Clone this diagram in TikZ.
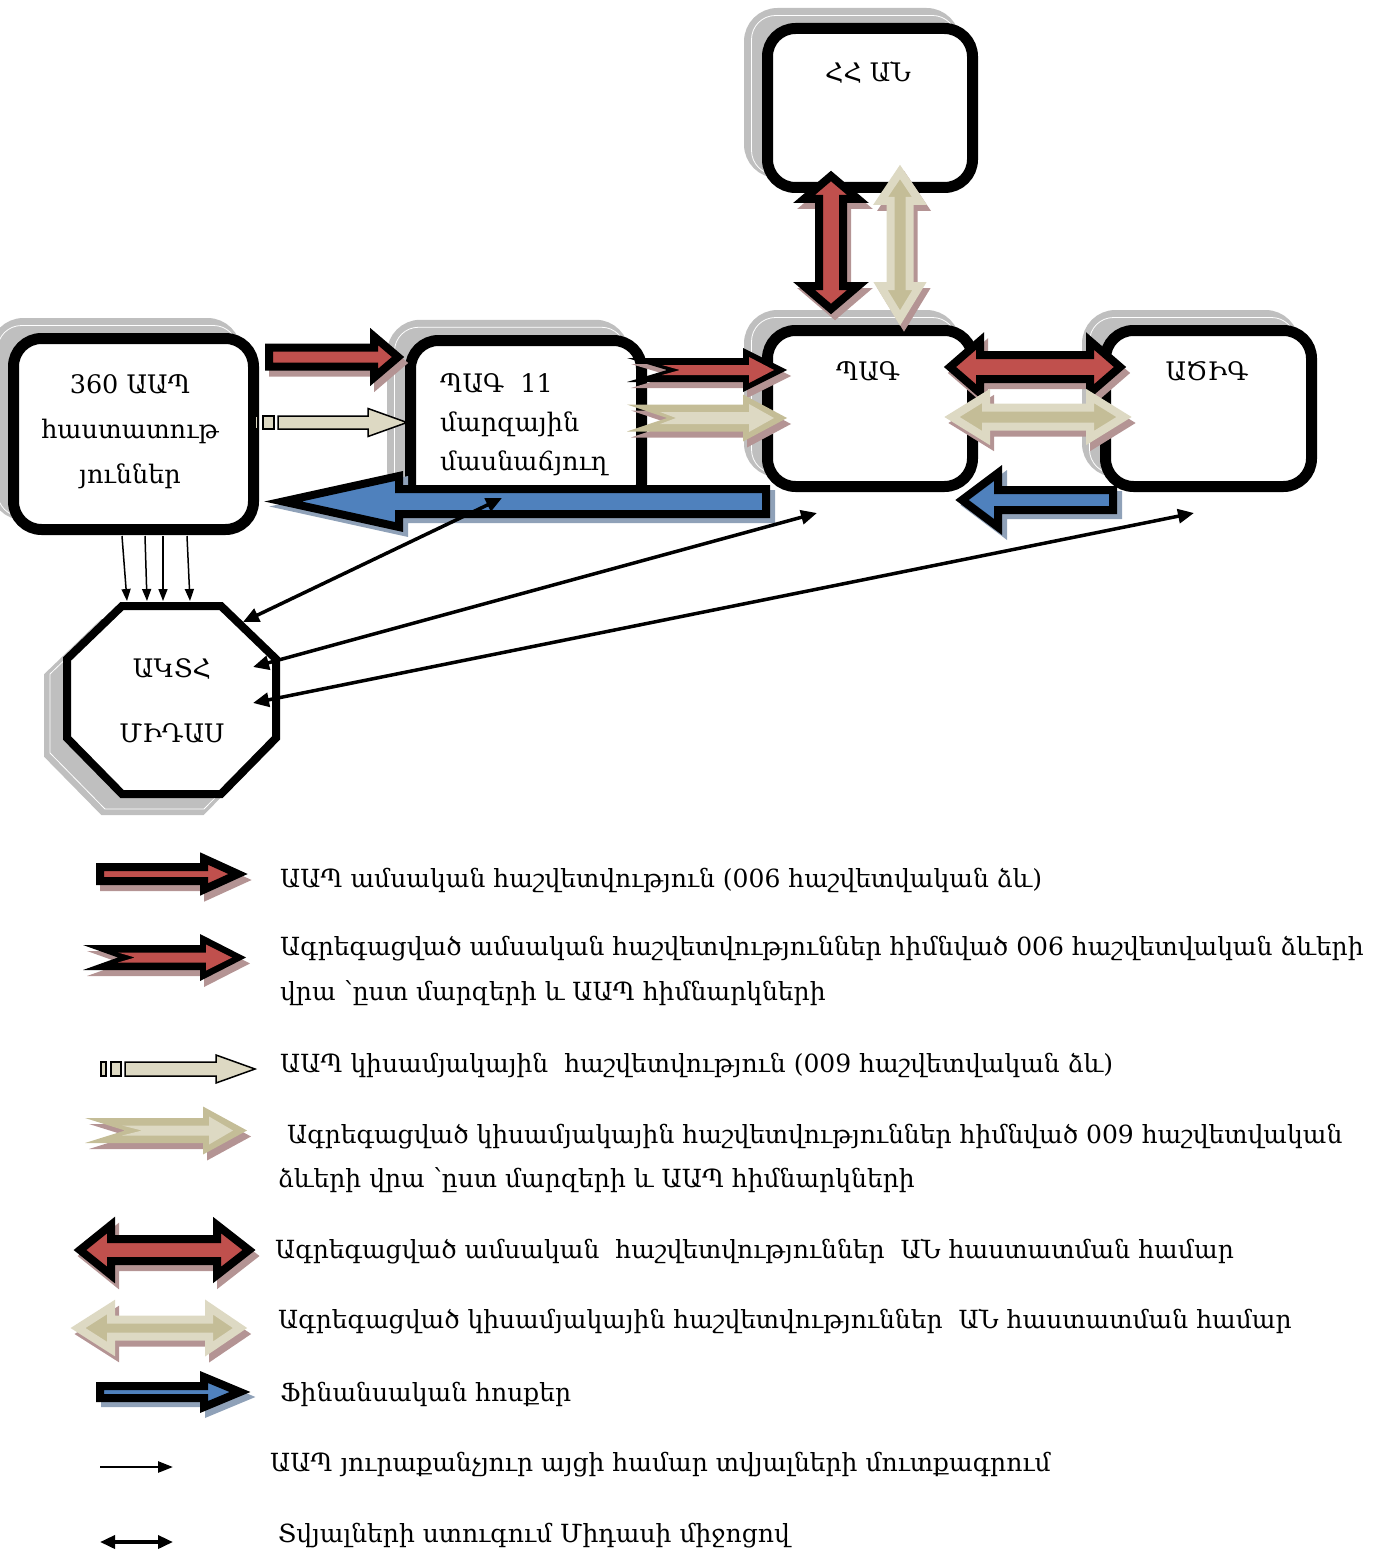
\documentclass[tikz,border=0pt]{standalone}
\usepackage{fontspec}
\setmainfont{DejaVu Serif}
\newfontfamily\legfont{DejaVu Serif}
\newfontfamily\boxfont{DejaVu Serif}
\usetikzlibrary{arrows.meta}
\definecolor{cred}{HTML}{C0504D}
\definecolor{cshr}{HTML}{B49494}
\definecolor{tanD}{HTML}{C4BD97}
\definecolor{tanL}{HTML}{DDD9C3}
\definecolor{cblue}{HTML}{4F81BD}
\definecolor{cshb}{HTML}{8FA1B8}
\definecolor{cgray}{HTML}{BFBFBF}
% single arrow: style, tail x, head-back x, tip x, y, body half, head half
\newcommand{\sarrow}[7]{\path[#1] (#2,#5-#6) -- (#3,#5-#6) -- (#3,#5-#7) -- (#4,#5) -- (#3,#5+#7) -- (#3,#5+#6) -- (#2,#5+#6) -- cycle;}
% notched arrow (filled only): + notch x
\newcommand{\narrow}[8]{\path[#1] (#2,#5-#6) -- (#3,#5-#6) -- (#3,#5-#7) -- (#4,#5) -- (#3,#5+#7) -- (#3,#5+#6) -- (#2,#5+#6) -- (#8,#5) -- cycle;}
% double arrow: style, left tip, left back, right back, right tip, y, body half, head half
\newcommand{\darrow}[8]{\path[#1] (#2,#6) -- (#3,#6-#8) -- (#3,#6-#7) -- (#4,#6-#7) -- (#4,#6-#8) -- (#5,#6) -- (#4,#6+#8) -- (#4,#6+#7) -- (#3,#6+#7) -- (#3,#6+#8) -- cycle;}
% vertical double arrow: style, top tip, top back, bottom back, bottom tip, x, body half, head half
\newcommand{\varrow}[8]{\path[#1] (#6,#2) -- (#6+#8,#3) -- (#6+#7,#3) -- (#6+#7,#4) -- (#6+#8,#4) -- (#6,#5) -- (#6-#8,#4) -- (#6-#7,#4) -- (#6-#7,#3) -- (#6-#8,#3) -- cycle;}
\begin{document}
\begin{tikzpicture}[x=1pt,y=-1pt,
  box/.style={draw=black, fill=white, line width=11pt, rounded corners=28pt, inner sep=0pt},
  boxshadow/.style={draw=cgray, fill=cgray, line width=11pt, rounded corners=28pt, inner sep=0pt},
  boxshine/.style={draw=white, line width=0.8pt, rounded corners=24pt, inner sep=0pt},
  redout/.style={fill=cred, draw=black, line width=8pt},
  shR/.style={fill=cshr, draw=cshr, line width=8pt, shift={(4,6)}},
  shRF/.style={fill=cshr, shift={(4,6)}},
  blackF/.style={fill=black},
  redF/.style={fill=cred},
  tanDF/.style={fill=tanD},
  tanLF/.style={fill=tanL},
  shB/.style={fill=cshb, draw=cshb, line width=8pt, shift={(5,5)}},
  tanDbl/.style={fill=tanD, draw=tanL, line width=8pt},
  blueout/.style={fill=cblue, draw=black, line width=8pt},
  thinbox/.style={fill=tanL, draw=black, line width=1.5pt},
  datain/.style={draw=black, line width=1.5pt, -{Triangle[length=12pt,width=9pt]}},
  check/.style={draw=black, line width=3.5pt, {Triangle[length=16pt,width=14pt]}-{Triangle[length=16pt,width=14pt]}},
  boxtext/.style={inner sep=0pt, font=\boxfont\fontsize{25.5pt}{30pt}\selectfont},
  legtext/.style={inner sep=0pt, anchor=base west, font=\legfont\fontsize{25pt}{30pt}\selectfont}]
\useasboundingbox (0,0) rectangle (1388,1554);
% ---- box shadows ----
\node[boxshadow, minimum width=240pt, minimum height=191pt] (aapS) at (115.5,419) {};
\node[boxshine, minimum width=240pt, minimum height=191pt] (aapW) at (117.5,421) {};
\node[boxshadow, minimum width=231pt, minimum height=171.5pt] (pag11S) at (508,411) {};
\node[boxshine, minimum width=231pt, minimum height=171.5pt] (pag11W) at (510,413) {};
\node[boxshadow, minimum width=205pt, minimum height=159pt] (anS) at (852,93) {};
\node[boxshine, minimum width=205pt, minimum height=159pt] (anW) at (854,95) {};
\node[boxshadow, minimum width=205pt, minimum height=156pt] (pagS) at (852,393.5) {};
\node[boxshine, minimum width=205pt, minimum height=156pt] (pagW) at (854,395.5) {};
\node[boxshadow, minimum width=206pt, minimum height=156pt] (aczigS) at (1190.5,393.5) {};
\node[boxshine, minimum width=206pt, minimum height=156pt] (aczigW) at (1192.5,395.5) {};
\draw[fill=cgray, draw=cgray, line width=8pt, shift={(-19,17)}] (122,606) -- (221,606) -- (276,659) -- (276,738) -- (221,794) -- (122,794) -- (67,738) -- (67,659) -- cycle;
\draw[white, line width=0.8pt, shift={(-17,15)}] (122,606) -- (221,606) -- (276,659) -- (276,738) -- (221,794) -- (122,794) -- (67,738) -- (67,659) -- cycle;
% ---- boxes ----
\node[box, minimum width=240pt, minimum height=191pt] (aap) at (133.5,434) {};
\node[box, minimum width=231pt, minimum height=171.5pt] (pag11) at (526,426.25) {};
\node[box, minimum width=205pt, minimum height=159pt] (an) at (870,108) {};
\node[box, minimum width=205pt, minimum height=156pt] (pag) at (870,408.5) {};
\node[box, minimum width=206pt, minimum height=156pt] (aczig) at (1208.5,408.5) {};
\draw[fill=white, draw=black, line width=8pt] (122,606) -- (221,606) -- (276,659) -- (276,738) -- (221,794) -- (122,794) -- (67,738) -- (67,659) -- cycle;
% ---- box texts ----
\node[boxtext, anchor=base] (aapT1) at (130,393) {360 ԱԱՊ};
\node[boxtext, anchor=base] (aapT2) at (130,438) {հաստատութ};
\node[boxtext, anchor=base] (aapT3) at (130,483) {յուններ};
\node[boxtext, anchor=base west] (pag11T1) at (440,392) {ՊԱԳ\ \ 11};
\node[boxtext, anchor=base west] (pag11T2) at (440,431) {մարզային};
\node[boxtext, anchor=base west] (pag11T3) at (440,470) {մասնաճյուղ};
\node[boxtext, anchor=base] (anT) at (868,82) {ՀՀ ԱՆ};
\node[boxtext, anchor=base] (pagT) at (868,380) {ՊԱԳ};
\node[boxtext, anchor=base] (aczigT) at (1207,380) {ԱԾԻԳ};
\node[boxtext, anchor=base] (octT1) at (172,677) {ԱԿՏՀ};
\node[boxtext, anchor=base] (octT2) at (172,742) {ՄԻԴԱՍ};
% ---- block arrows in the diagram ----
\sarrow{shR}{269}{374}{398}{357}{9.5}{20.5}
\sarrow{redout}{269}{374}{398}{357}{9.5}{20.5}
\draw[thinbox] (255,416) rectangle (258,429);
\draw[thinbox] (263,416) rectangle (274,429);
\sarrow{thinbox}{278}{368}{407}{422.5}{6.5}{14}
% red notched (outer black, inner red)
\narrow{shRF}{627}{743}{787}{370}{12}{22}{667}
\narrow{blackF}{627}{743}{787}{370}{12}{22}{667}
\narrow{redF}{662}{749}{774}{370}{5}{13}{680}
% tan notched (outer dark tan, inner light)
\narrow{shRF}{627}{743}{787}{418}{13.5}{23.5}{667}
\narrow{tanDF}{627}{743}{787}{418}{13.5}{23.5}{667}
\narrow{tanLF}{660}{749}{774}{418}{6}{14}{676}
\sarrow{shB}{766}{399}{283}{501.5}{12.5}{25.5}
\sarrow{blueout}{766}{399}{283}{501.5}{12.5}{25.5}
\varrow{shR}{176}{199}{286}{309}{831}{12}{27}
\varrow{redout}{176}{199}{286}{309}{831}{12}{27}
\varrow{shR}{172}{201}{286}{318}{900}{9.5}{19.5}
\varrow{tanDbl}{172}{201}{286}{318}{900}{9.5}{19.5}
\darrow{shR}{950}{980}{1090}{1120}{367}{12}{26}
\darrow{redout}{950}{980}{1090}{1120}{367}{12}{26}
\darrow{shR}{952}{986}{1090}{1124}{417}{9.5}{21}
\darrow{tanDbl}{952}{986}{1090}{1124}{417}{9.5}{21}
\sarrow{shB}{1113}{998}{962}{500}{10}{27}
\sarrow{blueout}{1113}{998}{962}{500}{10}{27}
% ---- thin connectors ----
\coordinate (aapB1) at (122,536);
\coordinate (aapB2) at (145,536);
\coordinate (aapB3) at (163,536);
\coordinate (aapB4) at (187,536);
\coordinate (octN1) at (127,601);
\coordinate (octN2) at (147,601);
\coordinate (octN3) at (163,601);
\coordinate (octN4) at (190,601);
\draw[datain] (aapB1) -- (octN1);
\draw[datain] (aapB2) -- (octN2);
\draw[datain] (aapB3) -- (octN3);
\draw[datain] (aapB4) -- (octN4);
\coordinate (pag11C) at (502,498);
\coordinate (pagC) at (817,513);
\coordinate (aczigC) at (1194,513);
\coordinate (octE1) at (243,622);
\coordinate (octE2) at (253,667);
\coordinate (octE3) at (253,703);
\draw[check] (pag11C) -- (octE1);
\draw[check] (pagC) -- (octE2);
\draw[check] (aczigC) -- (octE3);
% ---- legend ----
\sarrow{shR}{100}{204}{238}{874}{7}{15.5}
\sarrow{redout}{100}{204}{238}{874}{7}{15.5}
\node[legtext] (leg1) at (280,887) {ԱԱՊ ամսական հաշվետվություն (006 հաշվետվական ձև)};
\narrow{shRF}{83}{200}{246}{957.5}{12.5}{23.5}{118}
\narrow{blackF}{83}{200}{246}{957.5}{12.5}{23.5}{118}
\narrow{redF}{118}{206}{232}{957.5}{5}{13}{135}
\node[legtext] (leg2a) at (280,955) {Ագրեգացված ամսական հաշվետվություններ հիմնված 006 հաշվետվական ձևերի};
\node[legtext] (leg2b) at (280,1000) {վրա ՝ըստ մարզերի և ԱԱՊ հիմնարկների};
\draw[thinbox] (101,1062) rectangle (106,1076);
\draw[thinbox] (111,1062) rectangle (121,1076);
\sarrow{thinbox}{125}{216}{255}{1069}{7}{14}
\node[legtext] (leg3) at (280,1072) {ԱԱՊ կիսամյակային\ \ հաշվետվություն (009 հաշվետվական ձև)};
\narrow{shRF}{85}{203}{247}{1130.5}{12.5}{24}{125}
\narrow{tanDF}{85}{203}{247}{1130.5}{12.5}{24}{125}
\narrow{tanLF}{122}{209}{233}{1130.5}{5}{14}{142}
\node[legtext] (leg4a) at (287,1143) {Ագրեգացված կիսամյակային հաշվետվություններ հիմնված 009 հաշվետվական};
\node[legtext] (leg4b) at (278,1187) {ձևերի վրա ՝ըստ մարզերի և ԱԱՊ հիմնարկների};
\darrow{shR}{80}{111}{217}{249}{1250}{11}{25}
\darrow{redout}{80}{111}{217}{249}{1250}{11}{25}
\node[legtext] (leg5) at (275,1258) {Ագրեգացված ամսական\ \ հաշվետվություններ\ \ ԱՆ հաստատման համար};
\darrow{shR}{78}{111}{209}{240}{1328}{8.5}{21}
\darrow{tanDbl}{78}{111}{209}{240}{1328}{8.5}{21}
\node[legtext] (leg6) at (278,1328) {Ագրեգացված կիսամյակային հաշվետվություններ\ \ ԱՆ հաստատման համար};
\sarrow{shB}{100}{204}{240}{1392}{6}{15}
\sarrow{blueout}{100}{204}{240}{1392}{6}{15}
\node[legtext] (leg7) at (280,1401) {Ֆինանսական հոսքեր};
\coordinate (legA1) at (100,1467);
\coordinate (legA2) at (173,1467);
\draw[draw=black, line width=2.5pt, -{Triangle[length=15pt,width=11pt]}] (legA1) -- (legA2);
\node[legtext] (leg8) at (270,1471) {ԱԱՊ յուրաքանչյուր այցի համար տվյալների մուտքագրում};
\coordinate (legB1) at (100,1542);
\coordinate (legB2) at (173,1542);
\draw[draw=black, line width=3.5pt, {Triangle[length=15pt,width=13pt]}-{Triangle[length=15pt,width=13pt]}] (legB1) -- (legB2);
\node[legtext] (leg9) at (278,1542) {Տվյալների ստուգում Միդասի միջոցով};
\end{tikzpicture}
\end{document}
